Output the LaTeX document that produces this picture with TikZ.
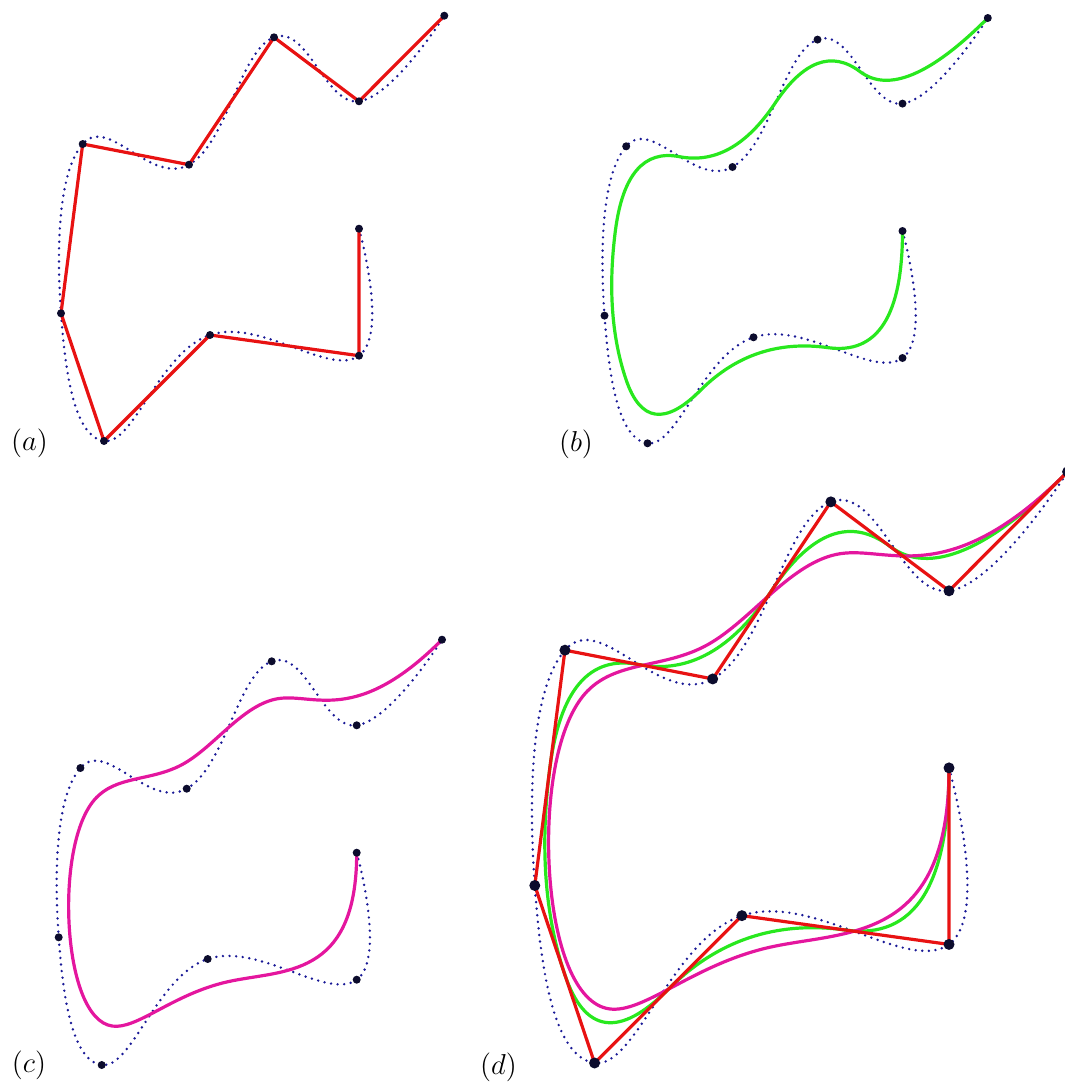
\documentclass[tikz,border=0pt]{standalone}
\usetikzlibrary{calc}
\definecolor{ctrlred}{RGB}{232,18,18}
\definecolor{interpblue}{RGB}{25,25,150}
\definecolor{bsplgreen}{RGB}{40,232,30}
\definecolor{bsplmag}{RGB}{228,22,158}
\definecolor{knotcol}{RGB}{12,12,45}
\begin{document}
\begin{tikzpicture}[x=0.5pt, y=-0.5pt, line join=round,
    ctrl/.style={ctrlred, line width=1.6pt},
    interp/.style={interpblue, line width=1.35pt, line cap=round, dash pattern=on 0pt off 3.3pt},
    quad/.style={bsplgreen, line width=1.6pt},
    cubic/.style={bsplmag, line width=1.6pt},
    knot/.style={fill=knotcol},
    lab/.style={font=\fontsize{15}{18}\selectfont, inner sep=0pt}]
  \useasboundingbox (0,0) rectangle (1065,1088);
  % the same ten points in every panel; (d) is panel (a) enlarged
  \foreach \p/\dx/\dy/\s in {a/0/0/1, b/543.5/2.3/1, c/-2.3/624/1, d/450/450/1.39} {
    \begin{scope}[shift={(\dx,\dy)}, scale=\s]
      \foreach \x/\y [count=\i from 0] in {359/228.7, 359/355.7, 210/335, 104/441, 61/313.3,
          82.7/144, 189/164.7, 274/37.3, 359/101.3, 444.3/15.7}
        \coordinate (\p-\i) at (\x,\y);
    \end{scope}
  }
  % interpolating curve, dotted
  \foreach \p in {a,b,c,d}
    \draw[interp] plot[smooth, tension=0.72] coordinates {(\p-0) (\p-1) (\p-2) (\p-3) (\p-4)
      (\p-5) (\p-6) (\p-7) (\p-8) (\p-9)};
  % quadratic B-spline: arcs between edge midpoints, the points are the controls
  \foreach \p in {b,d} {
    \coordinate (\p-g0) at (\p-0);
    \coordinate (\p-g8) at (\p-9);
    \foreach \i [evaluate=\i as \j using int(\i+1)] in {1,...,7}
      \coordinate (\p-g\i) at ($(\p-\i)!0.5!(\p-\j)$);
    \draw[quad] (\p-g0) \foreach \i [remember=\i as \k (initially 0)] in {1,...,8} {
      .. controls ($(\p-g\k)!2/3!(\p-\i)$) and ($(\p-g\i)!2/3!(\p-\i)$) .. (\p-g\i) };
  }
  % cubic B-spline, clamped at both ends, as Bezier pieces
  \foreach \p in {c,d} {
    \coordinate (\p-l1) at (\p-1);
    \coordinate (\p-r1) at ($(\p-1)!0.5!(\p-2)$);
    \foreach \i [evaluate=\i as \j using int(\i+1)] in {2,...,6} {
      \coordinate (\p-l\i) at ($(\p-\i)!1/3!(\p-\j)$);
      \coordinate (\p-r\i) at ($(\p-\i)!2/3!(\p-\j)$);
    }
    \coordinate (\p-l7) at ($(\p-7)!0.5!(\p-8)$);
    \coordinate (\p-r7) at (\p-8);
    \coordinate (\p-j7) at (\p-9);
    \foreach \i [evaluate=\i as \j using int(\i+1)] in {1,...,6}
      \coordinate (\p-j\i) at ($(\p-r\i)!0.5!(\p-l\j)$);
    \draw[cubic] (\p-0) \foreach \i in {1,...,7} { .. controls (\p-l\i) and (\p-r\i) .. (\p-j\i) };
  }
  % control polygon
  \foreach \p in {a,d}
    \draw[ctrl] (\p-0) \foreach \i in {1,...,9} { -- (\p-\i) };
  \foreach \p/\r in {a/4, b/4, c/4, d/5.5}
    \foreach \i in {0,...,9}
      \fill[knot] (\p-\i) circle (\r);
  \node[lab] (lab-a) at (29.5,443) {$(a)$};
  \node[lab] (lab-b) at (576,444) {$(b)$};
  \node[lab] (lab-c) at (29,1065) {$(c)$};
  \node[lab] (lab-d) at (498.5,1067.5) {$(d)$};
\end{tikzpicture}
\end{document}
